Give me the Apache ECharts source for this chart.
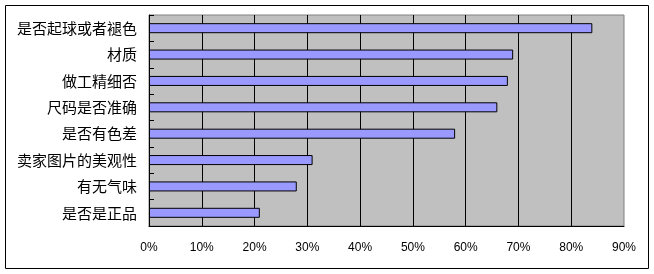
<!DOCTYPE html>
<html><head><meta charset="utf-8">
<script src="https://cdn.jsdelivr.net/npm/echarts@6/dist/echarts.min.js"></script>
<style>html,body{margin:0;padding:0;background:#fff}#c{width:654px;height:274px}</style>
</head><body><div id="c"></div>
<script>
var categories = ['是否起球或者褪色','材质','做工精细否','尺码是否准确','是否有色差','卖家图片的美观性','有无气味','是否是正品'];
var values = [84, 69, 68, 66, 58, 31, 28, 21];
var chart = echarts.init(document.getElementById('c'), null, {renderer:'canvas'});
chart.setOption({
  backgroundColor:'#ffffff',
  animation:false,
  graphic:[{type:'rect',shape:{x:5.5,y:5.5,width:643,height:263},style:{fill:null,stroke:'#000',lineWidth:1},z:-1}],
  grid:{left:149,right:30,top:15,bottom:48,show:true,backgroundColor:'#C0C0C0',borderColor:'#808080',borderWidth:1},
  xAxis:{type:'value',min:0,max:90,interval:10,
    axisLine:{show:true,lineStyle:{color:'#000',width:1}},
    axisTick:{show:false},
    axisLabel:{formatter:'{value}%',color:'#000',fontSize:12,fontFamily:'Liberation Sans',margin:16},
    splitLine:{show:true,showMinLine:false,showMaxLine:false,lineStyle:{color:'#000',width:1}}},
  yAxis:{type:'category',data:categories,inverse:true,
    axisLine:{show:true,lineStyle:{color:'#000',width:1}},
    axisTick:{show:true,inside:true,length:5,lineStyle:{color:'#000'}},
    axisLabel:{color:'#000',fontSize:15,fontFamily:'Noto Sans CJK SC',margin:12},
    splitLine:{show:false}},
  series:[{type:'bar',data:values,barWidth:'38%',
    itemStyle:{color:'#9999FF',borderColor:'#000',borderWidth:1}}]
});
</script></body></html>
